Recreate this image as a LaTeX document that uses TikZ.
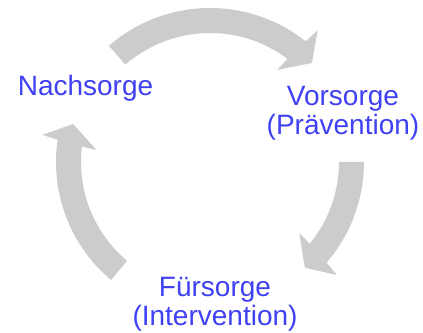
\documentclass[tikz,border=0pt]{standalone}
\usepackage{fontspec}
\setmainfont{Liberation Sans}
\definecolor{arrowgray}{RGB}{204,204,204}
\definecolor{labelblue}{RGB}{64,64,245}
\begin{document}
\begin{tikzpicture}[x=1pt,y=1pt,
  ring/.style={fill=arrowgray, draw=none},
  lbl/.style={text=labelblue, font=\fontsize{28}{28.5}\selectfont, anchor=base, align=center, inner sep=0pt}]
\useasboundingbox (0,0) rectangle (423,332);
\fill[white] (0,0) rectangle (423,332);
\coordinate (C) at (210,170);
\begin{scope}[shift={(C)}]
  % top arrow: Nachsorge -> Vorsorge
  \fill[ring] (131:154) arc[start angle=131, end angle=51.6, radius=154]
    -- (50.7:170) -- (44.2:142) -- (53.9:114)
    -- (53.05:129) arc[start angle=53.05, end angle=131, radius=129] -- cycle;
  % right arrow: Vorsorge -> Fuersorge
  \fill[ring] (0:154) arc[start angle=0, end angle=-40.8, radius=154]
    -- (-41.7:170) -- (-48.1:142) -- (-38.5:114)
    -- (-39.35:129) arc[start angle=-39.35, end angle=0, radius=129] -- cycle;
  % left arrow: Fuersorge -> Nachsorge
  \fill[ring] (230:154) arc[start angle=230, end angle=171.7, radius=154]
    -- (170.8:170) -- (164.5:142) -- (174.0:114)
    -- (173.15:129) arc[start angle=173.15, end angle=230, radius=129] -- cycle;
\end{scope}
\node[lbl, text width=140pt] (nach) at (85.5,236) {Nachsorge};
\node[lbl, text width=170pt] (vor) at (343,226) {Vorsorge\\(Prävention)};
\node[lbl, text width=180pt] (fuer) at (215,35) {Fürsorge\\(Intervention)};
\end{tikzpicture}
\end{document}
